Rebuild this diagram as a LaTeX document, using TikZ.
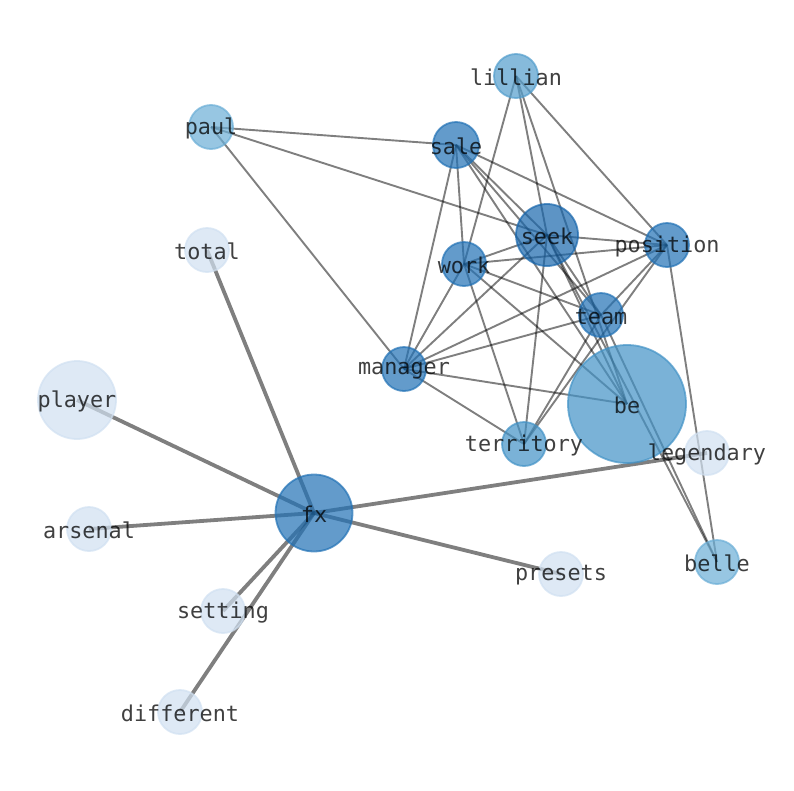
\documentclass[tikz,border=0pt]{standalone}
\usepackage{fontspec}
\setmonofont{DejaVu Sans Mono}
\definecolor{bdeep}{HTML}{1866AC}
\definecolor{bdark}{HTML}{2171B5}
\definecolor{bmid}{HTML}{4292C6}
\definecolor{blight}{HTML}{6BAED6}
\definecolor{bpale}{HTML}{D0E0F1}
\pgfdeclarelayer{bg}
\pgfsetlayers{bg,main}
\tikzset{
  wnode/.style={circle, inner sep=0pt, minimum size=#1, fill opacity=0.7, draw opacity=0.7, line width=1.8pt},
  wlabel/.style={font=\ttfamily\fontsize{21.8}{26}\selectfont, text=black, text opacity=0.75, inner sep=0pt, yshift=-1.5pt},
  thinedge/.style={draw=black, opacity=0.5, line width=1.9pt},
  thickedge/.style={draw=black, opacity=0.5, line width=3.8pt},
}
\begin{document}
\begin{tikzpicture}[x=1pt,y=-1pt]
\useasboundingbox (0,0) rectangle (794,790);
% nodes
\node[wnode=44pt, fill=bmid!60!blight, draw=bmid!60!blight, label={[wlabel]center:lillian}] (lillian) at (516,76) {};
\node[wnode=44pt, fill=blight, draw=blight, label={[wlabel]center:paul}] (paul) at (211,127) {};
\node[wnode=46pt, fill=bdark, draw=bdark, label={[wlabel]center:sale}] (sale) at (456,145) {};
\node[wnode=62pt, fill=bdeep, draw=bdeep, label={[wlabel]center:seek}] (seek) at (547,235) {};
\node[wnode=44pt, fill=bdark, draw=bdark, label={[wlabel]center:position}] (position) at (667,245) {};
\node[wnode=44pt, fill=bdark, draw=bdark, label={[wlabel]center:work}] (work) at (464,264) {};
\node[wnode=44pt, fill=bdark, draw=bdark, label={[wlabel]center:team}] (team) at (601,315) {};
\node[wnode=44pt, fill=bdark, draw=bdark, label={[wlabel]center:manager}] (manager) at (404,369) {};
\node[wnode=118pt, fill=bmid, draw=bmid, label={[wlabel]center:be}] (be) at (627,404) {};
\node[wnode=44pt, fill=bmid, draw=bmid, label={[wlabel]center:territory}] (territory) at (524,444) {};
\node[wnode=44pt, fill=bpale, draw=bpale, label={[wlabel]center:legendary}] (legendary) at (707,453) {};
\node[wnode=44pt, fill=blight, draw=blight, label={[wlabel]center:belle}] (belle) at (717,562) {};
\node[wnode=44pt, fill=bpale, draw=bpale, label={[wlabel]center:presets}] (presets) at (561,574) {};
\node[wnode=44pt, fill=bpale, draw=bpale, label={[wlabel]center:total}] (total) at (207,250) {};
\node[wnode=78pt, fill=bpale, draw=bpale, label={[wlabel]center:player}] (player) at (77,400) {};
\node[wnode=77pt, fill=bdark, draw=bdark, label={[wlabel]center:fx}] (fx) at (314,513) {};
\node[wnode=44pt, fill=bpale, draw=bpale, label={[wlabel]center:arsenal}] (arsenal) at (89,529) {};
\node[wnode=44pt, fill=bpale, draw=bpale, label={[wlabel]center:setting}] (setting) at (223,611) {};
\node[wnode=44pt, fill=bpale, draw=bpale, label={[wlabel]center:different}] (different) at (180,712) {};
% edges
\begin{pgfonlayer}{bg}
\foreach \a/\b in {paul/sale, paul/seek, paul/manager,
  lillian/work, lillian/seek, lillian/be, lillian/position,
  sale/manager, sale/work, sale/position, sale/seek, sale/team, sale/be,
  seek/work, seek/position, seek/manager, seek/territory, seek/be, seek/belle, seek/team,
  work/position, work/team, work/be, work/territory, work/manager,
  manager/position, manager/team, manager/be, manager/territory,
  position/team, position/territory, position/belle,
  team/territory, team/belle}
  \draw[thinedge] (\a.center) -- (\b.center);
\foreach \b in {total, player, arsenal, legendary, presets, setting, different}
  \draw[thickedge] (fx.center) -- (\b.center);
\end{pgfonlayer}
\end{tikzpicture}
\end{document}
